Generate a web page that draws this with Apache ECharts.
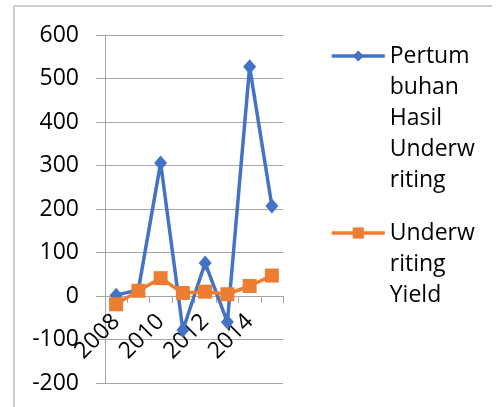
<!DOCTYPE html>
<html>
<head>
<meta charset="utf-8">
<script src="https://cdn.jsdelivr.net/npm/echarts@6/dist/echarts.min.js"></script>
<style>
  html, body { margin: 0; padding: 0; background: #fff; }
  #main { width: 497px; height: 407px; }
</style>
</head>
<body>
<div id="main"></div>
<script>
// data
var years = ['2008', '2009', '2010', '2011', '2012', '2013', '2014', '2015'];
var seriesNames = ['Pertumbuhan Hasil Underwriting', 'Underwriting Yield'];
var pertumbuhan = [2, 14, 306, -78, 76, -60, 527, 207];
var yieldVals = [-19, 12, 41, 7, 10, 4, 23, 47];
// how the legend wraps the names
var legendLines = [
  ['Pertum', 'buhan', 'Hasil', 'Underw', 'riting'],
  ['Underw', 'riting', 'Yield']
];

var FONT = 'Open Sans';
var LINE_H = 31;
var Y_MIN = -200, Y_MAX = 600;
var GRID_TOP = 35, GRID_BOTTOM = 24;

var chart = echarts.init(document.getElementById('main'), null, { renderer: 'canvas' });

// one legend per series; blank lines above the text keep the icon level with the first line
function makeLegend(i, iconY) {
  var n = legendLines[i].length;
  return {
    data: [seriesNames[i]],
    orient: 'vertical',
    left: 330,
    top: iconY - LINE_H / 2 - LINE_H * (n - 1),
    padding: 0,
    itemWidth: 53,
    itemHeight: 14,
    selectedMode: false,
    lineStyle: { width: 3.5 },
    formatter: function () {
      return new Array(n).join('\n') + legendLines[i].join('\n');
    },
    textStyle: {
      fontFamily: FONT,
      fontSize: 23,
      color: '#000',
      lineHeight: LINE_H
    }
  };
}

// the category axis crosses at 0, labels included
var plotH = 407 - GRID_TOP - GRID_BOTTOM;
var zeroOffset = -plotH * (0 - Y_MIN) / (Y_MAX - Y_MIN);

var option = {
  backgroundColor: '#fff',
  animation: false,
  grid: { left: 105, right: 214, top: GRID_TOP, bottom: GRID_BOTTOM, containLabel: false, outerBoundsMode: 'none' },
  legend: [makeLegend(0, 56), makeLegend(1, 233)],
  xAxis: {
    type: 'category',
    data: years,
    boundaryGap: true,
    offset: zeroOffset,
    axisLine: { onZero: false, lineStyle: { color: '#a6a6a6', width: 1 } },
    axisTick: { show: true, interval: 0, length: 7, lineStyle: { color: '#a6a6a6' } },
    axisLabel: {
      interval: 1,
      rotate: 45,
      margin: 22,
      fontFamily: FONT,
      fontSize: 23,
      color: '#000'
    }
  },
  yAxis: {
    type: 'value',
    min: Y_MIN,
    max: Y_MAX,
    interval: 100,
    axisLine: { show: true, lineStyle: { color: '#a6a6a6', width: 1 } },
    axisTick: { show: true, length: 9, lineStyle: { color: '#a6a6a6' } },
    axisLabel: { margin: 26, fontFamily: FONT, fontSize: 23, color: '#000' },
    splitLine: { show: true, lineStyle: { color: '#a6a6a6', width: 1 } }
  },
  series: [
    {
      name: seriesNames[0],
      type: 'line',
      data: pertumbuhan,
      symbol: 'diamond',
      symbolSize: [13, 15],
      showAllSymbol: true,
      color: '#4472C4',
      lineStyle: { width: 3.5, color: '#4472C4' },
      itemStyle: { color: '#4472C4' }
    },
    {
      name: seriesNames[1],
      type: 'line',
      data: yieldVals,
      symbol: 'rect',
      symbolSize: 14,
      showAllSymbol: true,
      color: '#ED7D31',
      lineStyle: { width: 3.5, color: '#ED7D31' },
      itemStyle: { color: '#ED7D31' }
    }
  ],
  // chart area border (top and left edges are what show in the picture)
  graphic: [
    { type: 'line', shape: { x1: 14, y1: 6, x2: 492, y2: 6 }, style: { stroke: '#bfbfbf', lineWidth: 1.5 } },
    { type: 'line', shape: { x1: 14, y1: 6, x2: 14, y2: 407 }, style: { stroke: '#bfbfbf', lineWidth: 1.5 } }
  ]
};

chart.setOption(option);
</script>
</body>
</html>
